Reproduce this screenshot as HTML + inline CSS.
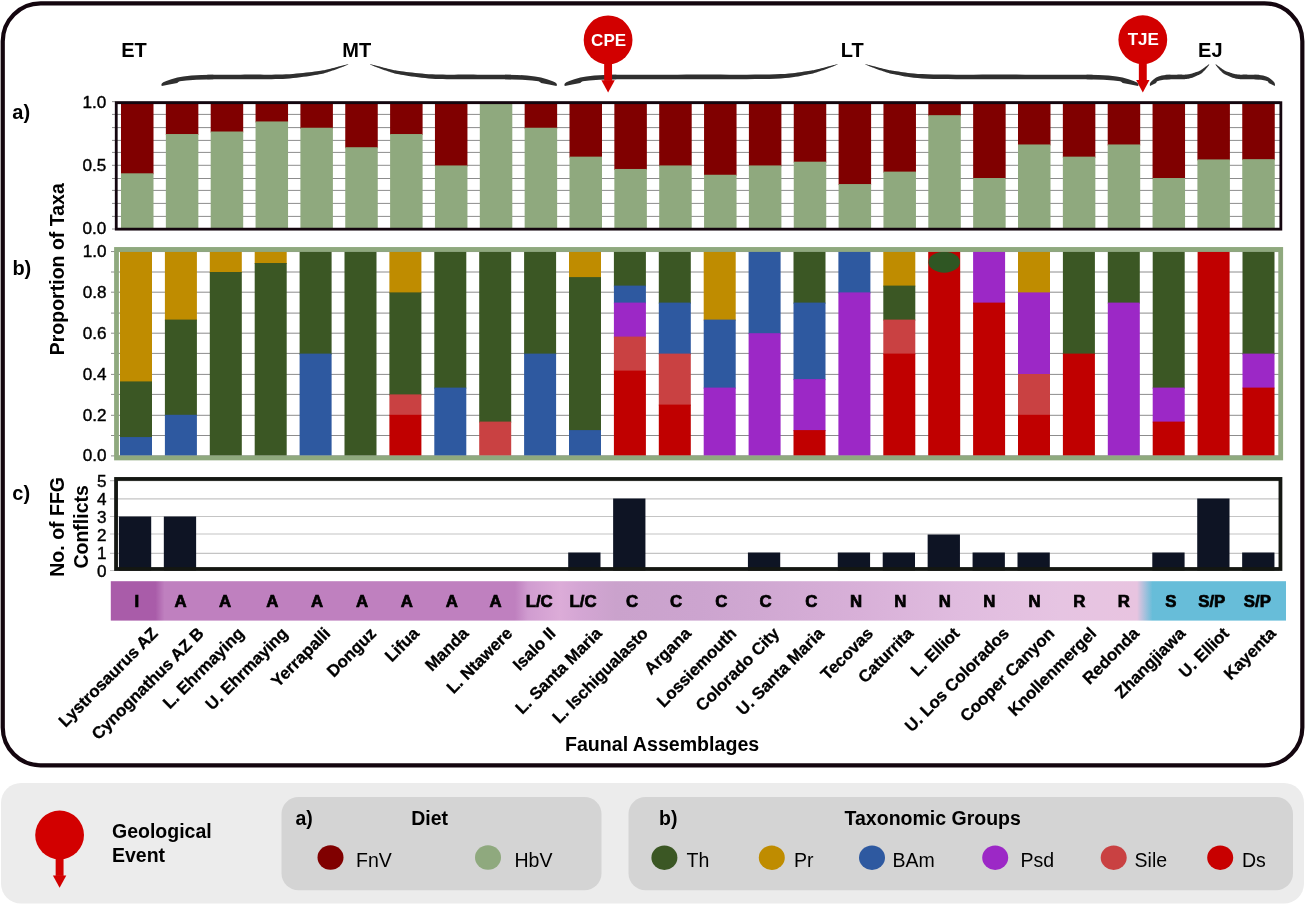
<!DOCTYPE html>
<html><head><meta charset="utf-8"><title>Faunal Assemblages</title>
<style>html,body{margin:0;padding:0;background:#fff;}body{width:1305px;height:904px;overflow:hidden;font-family:"Liberation Sans", sans-serif;}svg{display:block;will-change:transform;}</style>
</head><body>
<svg width="1305" height="904" viewBox="0 0 1305 904" font-family='"Liberation Sans", sans-serif'><rect x="2.75" y="3.3" width="1299.6" height="762" rx="37.9" ry="37.9" fill="#fff" stroke="#14060f" stroke-width="4.2"/>
<rect x="1" y="783" width="1303" height="120.5" rx="20" ry="20" fill="#ececec"/>
<line x1="112" y1="101.65" x2="1280" y2="101.65" stroke="#8c8c8c" stroke-width="1"/>
<line x1="112" y1="114.4" x2="1280" y2="114.4" stroke="#8c8c8c" stroke-width="1"/>
<line x1="112" y1="127.6" x2="1280" y2="127.6" stroke="#8c8c8c" stroke-width="1"/>
<line x1="112" y1="140.4" x2="1280" y2="140.4" stroke="#8c8c8c" stroke-width="1"/>
<line x1="112" y1="152.4" x2="1280" y2="152.4" stroke="#8c8c8c" stroke-width="1"/>
<line x1="112" y1="165.3" x2="1280" y2="165.3" stroke="#8c8c8c" stroke-width="1"/>
<line x1="112" y1="178.5" x2="1280" y2="178.5" stroke="#8c8c8c" stroke-width="1"/>
<line x1="112" y1="190.4" x2="1280" y2="190.4" stroke="#8c8c8c" stroke-width="1"/>
<line x1="112" y1="203.4" x2="1280" y2="203.4" stroke="#8c8c8c" stroke-width="1"/>
<line x1="112" y1="216.4" x2="1280" y2="216.4" stroke="#8c8c8c" stroke-width="1"/>
<line x1="112" y1="229" x2="1280" y2="229" stroke="#8c8c8c" stroke-width="1"/>
<rect x="121" y="102.6" width="32.5" height="71.71" fill="#800000"/>
<rect x="121" y="173.31" width="32.5" height="54.99" fill="#8fa97e"/>
<rect x="165.85" y="102.6" width="32.5" height="32.43" fill="#800000"/>
<rect x="165.85" y="134.03" width="32.5" height="94.28" fill="#8fa97e"/>
<rect x="210.7" y="102.6" width="32.5" height="29.91" fill="#800000"/>
<rect x="210.7" y="131.51" width="32.5" height="96.79" fill="#8fa97e"/>
<rect x="255.55" y="102.6" width="32.5" height="19.86" fill="#800000"/>
<rect x="255.55" y="121.45" width="32.5" height="106.85" fill="#8fa97e"/>
<rect x="300.4" y="102.6" width="32.5" height="26.14" fill="#800000"/>
<rect x="300.4" y="127.74" width="32.5" height="100.56" fill="#8fa97e"/>
<rect x="345.25" y="102.6" width="32.5" height="45.62" fill="#800000"/>
<rect x="345.25" y="147.22" width="32.5" height="81.08" fill="#8fa97e"/>
<rect x="390.1" y="102.6" width="32.5" height="32.43" fill="#800000"/>
<rect x="390.1" y="134.03" width="32.5" height="94.28" fill="#8fa97e"/>
<rect x="434.95" y="102.6" width="32.5" height="63.85" fill="#800000"/>
<rect x="434.95" y="165.45" width="32.5" height="62.85" fill="#8fa97e"/>
<rect x="479.8" y="102.6" width="32.5" height="125.7" fill="#8fa97e"/>
<rect x="524.65" y="102.6" width="32.5" height="26.14" fill="#800000"/>
<rect x="524.65" y="127.74" width="32.5" height="100.56" fill="#8fa97e"/>
<rect x="569.5" y="102.6" width="32.5" height="55.05" fill="#800000"/>
<rect x="569.5" y="156.65" width="32.5" height="71.65" fill="#8fa97e"/>
<rect x="614.35" y="102.6" width="32.5" height="67.37" fill="#800000"/>
<rect x="614.35" y="168.97" width="32.5" height="59.33" fill="#8fa97e"/>
<rect x="659.2" y="102.6" width="32.5" height="63.85" fill="#800000"/>
<rect x="659.2" y="165.45" width="32.5" height="62.85" fill="#8fa97e"/>
<rect x="704.05" y="102.6" width="32.5" height="73.15" fill="#800000"/>
<rect x="704.05" y="174.75" width="32.5" height="53.55" fill="#8fa97e"/>
<rect x="748.9" y="102.6" width="32.5" height="63.85" fill="#800000"/>
<rect x="748.9" y="165.45" width="32.5" height="62.85" fill="#8fa97e"/>
<rect x="793.75" y="102.6" width="32.5" height="60.08" fill="#800000"/>
<rect x="793.75" y="161.68" width="32.5" height="66.62" fill="#8fa97e"/>
<rect x="838.6" y="102.6" width="32.5" height="82.45" fill="#800000"/>
<rect x="838.6" y="184.05" width="32.5" height="44.25" fill="#8fa97e"/>
<rect x="883.45" y="102.6" width="32.5" height="70.01" fill="#800000"/>
<rect x="883.45" y="171.61" width="32.5" height="56.69" fill="#8fa97e"/>
<rect x="928.3" y="102.6" width="32.5" height="13.57" fill="#800000"/>
<rect x="928.3" y="115.17" width="32.5" height="113.13" fill="#8fa97e"/>
<rect x="973.15" y="102.6" width="32.5" height="76.42" fill="#800000"/>
<rect x="973.15" y="178.02" width="32.5" height="50.28" fill="#8fa97e"/>
<rect x="1018" y="102.6" width="32.5" height="42.86" fill="#800000"/>
<rect x="1018" y="144.46" width="32.5" height="83.84" fill="#8fa97e"/>
<rect x="1062.85" y="102.6" width="32.5" height="55.05" fill="#800000"/>
<rect x="1062.85" y="156.65" width="32.5" height="71.65" fill="#8fa97e"/>
<rect x="1107.7" y="102.6" width="32.5" height="42.86" fill="#800000"/>
<rect x="1107.7" y="144.46" width="32.5" height="83.84" fill="#8fa97e"/>
<rect x="1152.55" y="102.6" width="32.5" height="76.42" fill="#800000"/>
<rect x="1152.55" y="178.02" width="32.5" height="50.28" fill="#8fa97e"/>
<rect x="1197.4" y="102.6" width="32.5" height="57.82" fill="#800000"/>
<rect x="1197.4" y="159.42" width="32.5" height="68.88" fill="#8fa97e"/>
<rect x="1242.25" y="102.6" width="32.5" height="57.56" fill="#800000"/>
<rect x="1242.25" y="159.16" width="32.5" height="69.14" fill="#8fa97e"/>
<rect x="116.25" y="102.7" width="1164.6" height="126.45" fill="none" stroke="#14060f" stroke-width="2.8"/>
<text transform="translate(106.2 108.3) scale(1.07 1)" text-anchor="end" font-size="16" stroke="#000" stroke-width="0.4">1.0</text>
<text transform="translate(106.2 171.15) scale(1.07 1)" text-anchor="end" font-size="16" stroke="#000" stroke-width="0.4">0.5</text>
<text transform="translate(106.2 234) scale(1.07 1)" text-anchor="end" font-size="16" stroke="#000" stroke-width="0.4">0.0</text>
<line x1="111" y1="251.55" x2="1279" y2="251.55" stroke="#8c8c8c" stroke-width="1"/>
<line x1="111" y1="272" x2="1279" y2="272" stroke="#8c8c8c" stroke-width="1"/>
<line x1="111" y1="292.2" x2="1279" y2="292.2" stroke="#8c8c8c" stroke-width="1"/>
<line x1="111" y1="313.1" x2="1279" y2="313.1" stroke="#8c8c8c" stroke-width="1"/>
<line x1="111" y1="333.2" x2="1279" y2="333.2" stroke="#8c8c8c" stroke-width="1"/>
<line x1="111" y1="353.4" x2="1279" y2="353.4" stroke="#8c8c8c" stroke-width="1"/>
<line x1="111" y1="374.4" x2="1279" y2="374.4" stroke="#8c8c8c" stroke-width="1"/>
<line x1="111" y1="394.4" x2="1279" y2="394.4" stroke="#8c8c8c" stroke-width="1"/>
<line x1="111" y1="415.3" x2="1279" y2="415.3" stroke="#8c8c8c" stroke-width="1"/>
<line x1="111" y1="435.5" x2="1279" y2="435.5" stroke="#8c8c8c" stroke-width="1"/>
<line x1="111" y1="455.9" x2="1279" y2="455.9" stroke="#8c8c8c" stroke-width="1"/>
<rect x="120" y="251.6" width="32.0" height="130.82" fill="#bf8c00"/>
<rect x="120" y="381.42" width="32.0" height="56.64" fill="#3b5724"/>
<rect x="120" y="437.05" width="32.0" height="18.55" fill="#2e59a0"/>
<rect x="164.9" y="251.6" width="32.0" height="68.99" fill="#bf8c00"/>
<rect x="164.9" y="319.59" width="32.0" height="96.21" fill="#3b5724"/>
<rect x="164.9" y="414.8" width="32.0" height="40.8" fill="#2e59a0"/>
<rect x="209.8" y="251.6" width="32.0" height="21.4" fill="#bf8c00"/>
<rect x="209.8" y="272" width="32.0" height="183.6" fill="#3b5724"/>
<rect x="254.7" y="251.6" width="32.0" height="12.42" fill="#bf8c00"/>
<rect x="254.7" y="263.02" width="32.0" height="192.58" fill="#3b5724"/>
<rect x="299.6" y="251.6" width="32.0" height="103" fill="#3b5724"/>
<rect x="299.6" y="353.6" width="32.0" height="102" fill="#2e59a0"/>
<rect x="344.5" y="251.6" width="32.0" height="204" fill="#3b5724"/>
<rect x="389.4" y="251.6" width="32.0" height="41.8" fill="#bf8c00"/>
<rect x="389.4" y="292.4" width="32.0" height="103" fill="#3b5724"/>
<rect x="389.4" y="394.4" width="32.0" height="21.4" fill="#c94142"/>
<rect x="389.4" y="414.8" width="32.0" height="40.8" fill="#c00000"/>
<rect x="434.3" y="251.6" width="32.0" height="137" fill="#3b5724"/>
<rect x="434.3" y="387.6" width="32.0" height="68" fill="#2e59a0"/>
<rect x="479.2" y="251.6" width="32.0" height="171" fill="#3b5724"/>
<rect x="479.2" y="421.6" width="32.0" height="34" fill="#c94142"/>
<rect x="524.1" y="251.6" width="32.0" height="103" fill="#3b5724"/>
<rect x="524.1" y="353.6" width="32.0" height="102" fill="#2e59a0"/>
<rect x="569" y="251.6" width="32.0" height="26.5" fill="#bf8c00"/>
<rect x="569" y="277.1" width="32.0" height="154" fill="#3b5724"/>
<rect x="569" y="430.1" width="32.0" height="25.5" fill="#2e59a0"/>
<rect x="613.9" y="251.6" width="32.0" height="35" fill="#3b5724"/>
<rect x="613.9" y="285.6" width="32.0" height="18" fill="#2e59a0"/>
<rect x="613.9" y="302.6" width="32.0" height="35" fill="#9c28c6"/>
<rect x="613.9" y="336.6" width="32.0" height="35" fill="#c94142"/>
<rect x="613.9" y="370.6" width="32.0" height="85" fill="#c00000"/>
<rect x="658.8" y="251.6" width="32.0" height="52" fill="#3b5724"/>
<rect x="658.8" y="302.6" width="32.0" height="52" fill="#2e59a0"/>
<rect x="658.8" y="353.6" width="32.0" height="52" fill="#c94142"/>
<rect x="658.8" y="404.6" width="32.0" height="51" fill="#c00000"/>
<rect x="703.7" y="251.6" width="32.0" height="69" fill="#bf8c00"/>
<rect x="703.7" y="319.6" width="32.0" height="69" fill="#2e59a0"/>
<rect x="703.7" y="387.6" width="32.0" height="68" fill="#9c28c6"/>
<rect x="748.6" y="251.6" width="32.0" height="82.6" fill="#2e59a0"/>
<rect x="748.6" y="333.2" width="32.0" height="122.4" fill="#9c28c6"/>
<rect x="793.5" y="251.6" width="32.0" height="52" fill="#3b5724"/>
<rect x="793.5" y="302.6" width="32.0" height="77.5" fill="#2e59a0"/>
<rect x="793.5" y="379.1" width="32.0" height="52" fill="#9c28c6"/>
<rect x="793.5" y="430.1" width="32.0" height="25.5" fill="#c00000"/>
<rect x="838.4" y="251.6" width="32.0" height="41.8" fill="#2e59a0"/>
<rect x="838.4" y="292.4" width="32.0" height="163.2" fill="#9c28c6"/>
<rect x="883.3" y="251.6" width="32.0" height="35" fill="#bf8c00"/>
<rect x="883.3" y="285.6" width="32.0" height="35" fill="#3b5724"/>
<rect x="883.3" y="319.6" width="32.0" height="35" fill="#c94142"/>
<rect x="883.3" y="353.6" width="32.0" height="102" fill="#c00000"/>
<rect x="928.2" y="251.6" width="32.0" height="204" fill="#c00000"/>
<rect x="973.1" y="251.6" width="32.0" height="52" fill="#9c28c6"/>
<rect x="973.1" y="302.6" width="32.0" height="153" fill="#c00000"/>
<rect x="1018" y="251.6" width="32.0" height="41.8" fill="#bf8c00"/>
<rect x="1018" y="292.4" width="32.0" height="82.6" fill="#9c28c6"/>
<rect x="1018" y="374" width="32.0" height="41.8" fill="#c94142"/>
<rect x="1018" y="414.8" width="32.0" height="40.8" fill="#c00000"/>
<rect x="1062.9" y="251.6" width="32.0" height="103" fill="#3b5724"/>
<rect x="1062.9" y="353.6" width="32.0" height="102" fill="#c00000"/>
<rect x="1107.8" y="251.6" width="32.0" height="52" fill="#3b5724"/>
<rect x="1107.8" y="302.6" width="32.0" height="153" fill="#9c28c6"/>
<rect x="1152.7" y="251.6" width="32.0" height="137" fill="#3b5724"/>
<rect x="1152.7" y="387.6" width="32.0" height="35" fill="#9c28c6"/>
<rect x="1152.7" y="421.6" width="32.0" height="34" fill="#c00000"/>
<rect x="1197.6" y="251.6" width="32.0" height="204" fill="#c00000"/>
<rect x="1242.5" y="251.6" width="32.0" height="103" fill="#3b5724"/>
<rect x="1242.5" y="353.6" width="32.0" height="35" fill="#9c28c6"/>
<rect x="1242.5" y="387.6" width="32.0" height="68" fill="#c00000"/>
<ellipse cx="944.2" cy="262.2" rx="15.8" ry="10.5" fill="#2f5623"/>
<rect x="116.5" y="249.45" width="1164.2" height="208.5" fill="none" stroke="#8fa97e" stroke-width="4.8"/>
<text transform="translate(106.6 461.3) scale(1.07 1)" text-anchor="end" font-size="16" stroke="#000" stroke-width="0.4">0.0</text>
<text transform="translate(106.6 420.5) scale(1.07 1)" text-anchor="end" font-size="16" stroke="#000" stroke-width="0.4">0.2</text>
<text transform="translate(106.6 379.7) scale(1.07 1)" text-anchor="end" font-size="16" stroke="#000" stroke-width="0.4">0.4</text>
<text transform="translate(106.6 338.9) scale(1.07 1)" text-anchor="end" font-size="16" stroke="#000" stroke-width="0.4">0.6</text>
<text transform="translate(106.6 298.1) scale(1.07 1)" text-anchor="end" font-size="16" stroke="#000" stroke-width="0.4">0.8</text>
<text transform="translate(106.6 257.3) scale(1.07 1)" text-anchor="end" font-size="16" stroke="#000" stroke-width="0.4">1.0</text>
<line x1="110" y1="570.5" x2="1279" y2="570.5" stroke="#c4c4c4" stroke-width="1.2"/>
<line x1="110" y1="553.3" x2="1279" y2="553.3" stroke="#c4c4c4" stroke-width="1.2"/>
<line x1="110" y1="534" x2="1279" y2="534" stroke="#c4c4c4" stroke-width="1.2"/>
<line x1="110" y1="516.5" x2="1279" y2="516.5" stroke="#c4c4c4" stroke-width="1.2"/>
<line x1="110" y1="498.8" x2="1279" y2="498.8" stroke="#c4c4c4" stroke-width="1.2"/>
<line x1="110" y1="480.6" x2="1279" y2="480.6" stroke="#c4c4c4" stroke-width="1.2"/>
<rect x="118.9" y="516.5" width="32.3" height="54" fill="#0e1424"/>
<rect x="163.83" y="516.5" width="32.3" height="54" fill="#0e1424"/>
<rect x="568.2" y="552.5" width="32.3" height="18" fill="#0e1424"/>
<rect x="613.13" y="498.5" width="32.3" height="72" fill="#0e1424"/>
<rect x="747.92" y="552.5" width="32.3" height="18" fill="#0e1424"/>
<rect x="837.78" y="552.5" width="32.3" height="18" fill="#0e1424"/>
<rect x="882.71" y="552.5" width="32.3" height="18" fill="#0e1424"/>
<rect x="927.64" y="534.5" width="32.3" height="36" fill="#0e1424"/>
<rect x="972.57" y="552.5" width="32.3" height="18" fill="#0e1424"/>
<rect x="1017.5" y="552.5" width="32.3" height="18" fill="#0e1424"/>
<rect x="1152.29" y="552.5" width="32.3" height="18" fill="#0e1424"/>
<rect x="1197.22" y="498.5" width="32.3" height="72" fill="#0e1424"/>
<rect x="1242.15" y="552.5" width="32.3" height="18" fill="#0e1424"/>
<rect x="116.05" y="478.95" width="1164.4" height="90.05" fill="none" stroke="#141712" stroke-width="3.8"/>
<text transform="translate(106.5 576.5) scale(1.07 1)" text-anchor="end" font-size="16" stroke="#000" stroke-width="0.4">0</text>
<text transform="translate(106.5 558.5) scale(1.07 1)" text-anchor="end" font-size="16" stroke="#000" stroke-width="0.4">1</text>
<text transform="translate(106.5 540.5) scale(1.07 1)" text-anchor="end" font-size="16" stroke="#000" stroke-width="0.4">2</text>
<text transform="translate(106.5 522.5) scale(1.07 1)" text-anchor="end" font-size="16" stroke="#000" stroke-width="0.4">3</text>
<text transform="translate(106.5 504.5) scale(1.07 1)" text-anchor="end" font-size="16" stroke="#000" stroke-width="0.4">4</text>
<text transform="translate(106.5 486.5) scale(1.07 1)" text-anchor="end" font-size="16" stroke="#000" stroke-width="0.4">5</text>
<defs><linearGradient id="sg" x1="0" y1="0" x2="1" y2="0"><stop offset="0.0000" stop-color="#a95ca9"/><stop offset="0.0380" stop-color="#a95ca9"/><stop offset="0.0457" stop-color="#bf80bf"/><stop offset="0.3439" stop-color="#bf80bf"/><stop offset="0.3550" stop-color="#d09cd0"/><stop offset="0.3822" stop-color="#dcacd8"/><stop offset="0.3993" stop-color="#d4a6d4"/><stop offset="0.4299" stop-color="#caa2cc"/><stop offset="0.5014" stop-color="#cca4cf"/><stop offset="0.5524" stop-color="#d0a8d2"/><stop offset="0.6375" stop-color="#d8b0d8"/><stop offset="0.7226" stop-color="#e0bcdf"/><stop offset="0.8077" stop-color="#e6c4e2"/><stop offset="0.8732" stop-color="#e8c4e0"/><stop offset="0.8864" stop-color="#67bdd9"/><stop offset="1.0000" stop-color="#67bdd9"/></linearGradient></defs>
<rect x="110.8" y="581.2" width="1175.2" height="39.4" fill="url(#sg)"/>
<text x="136.8" y="606.8" text-anchor="middle" font-size="16.8" font-weight="bold" stroke="#000" stroke-width="0.7">I</text>
<text x="180.5" y="606.8" text-anchor="middle" font-size="16.8" font-weight="bold" stroke="#000" stroke-width="0.7">A</text>
<text x="225.1" y="606.8" text-anchor="middle" font-size="16.8" font-weight="bold" stroke="#000" stroke-width="0.7">A</text>
<text x="272.4" y="606.8" text-anchor="middle" font-size="16.8" font-weight="bold" stroke="#000" stroke-width="0.7">A</text>
<text x="317" y="606.8" text-anchor="middle" font-size="16.8" font-weight="bold" stroke="#000" stroke-width="0.7">A</text>
<text x="362" y="606.8" text-anchor="middle" font-size="16.8" font-weight="bold" stroke="#000" stroke-width="0.7">A</text>
<text x="406.7" y="606.8" text-anchor="middle" font-size="16.8" font-weight="bold" stroke="#000" stroke-width="0.7">A</text>
<text x="451.7" y="606.8" text-anchor="middle" font-size="16.8" font-weight="bold" stroke="#000" stroke-width="0.7">A</text>
<text x="495.6" y="606.8" text-anchor="middle" font-size="16.8" font-weight="bold" stroke="#000" stroke-width="0.7">A</text>
<text x="539.2" y="606.8" text-anchor="middle" font-size="16.8" font-weight="bold" stroke="#000" stroke-width="0.7">L/C</text>
<text x="583.1" y="606.8" text-anchor="middle" font-size="16.8" font-weight="bold" stroke="#000" stroke-width="0.7">L/C</text>
<text x="632" y="606.8" text-anchor="middle" font-size="16.8" font-weight="bold" stroke="#000" stroke-width="0.7">C</text>
<text x="676.1" y="606.8" text-anchor="middle" font-size="16.8" font-weight="bold" stroke="#000" stroke-width="0.7">C</text>
<text x="721.3" y="606.8" text-anchor="middle" font-size="16.8" font-weight="bold" stroke="#000" stroke-width="0.7">C</text>
<text x="765.6" y="606.8" text-anchor="middle" font-size="16.8" font-weight="bold" stroke="#000" stroke-width="0.7">C</text>
<text x="811.3" y="606.8" text-anchor="middle" font-size="16.8" font-weight="bold" stroke="#000" stroke-width="0.7">C</text>
<text x="856" y="606.8" text-anchor="middle" font-size="16.8" font-weight="bold" stroke="#000" stroke-width="0.7">N</text>
<text x="900.4" y="606.8" text-anchor="middle" font-size="16.8" font-weight="bold" stroke="#000" stroke-width="0.7">N</text>
<text x="944.8" y="606.8" text-anchor="middle" font-size="16.8" font-weight="bold" stroke="#000" stroke-width="0.7">N</text>
<text x="989.2" y="606.8" text-anchor="middle" font-size="16.8" font-weight="bold" stroke="#000" stroke-width="0.7">N</text>
<text x="1034.5" y="606.8" text-anchor="middle" font-size="16.8" font-weight="bold" stroke="#000" stroke-width="0.7">N</text>
<text x="1079.4" y="606.8" text-anchor="middle" font-size="16.8" font-weight="bold" stroke="#000" stroke-width="0.7">R</text>
<text x="1123.8" y="606.8" text-anchor="middle" font-size="16.8" font-weight="bold" stroke="#000" stroke-width="0.7">R</text>
<text x="1170.8" y="606.8" text-anchor="middle" font-size="16.8" font-weight="bold" stroke="#000" stroke-width="0.7">S</text>
<text x="1211.8" y="606.8" text-anchor="middle" font-size="16.8" font-weight="bold" stroke="#000" stroke-width="0.7">S/P</text>
<text x="1257.4" y="606.8" text-anchor="middle" font-size="16.8" font-weight="bold" stroke="#000" stroke-width="0.7">S/P</text>
<text x="158.8" y="634.5" text-anchor="end" font-size="16.8" font-weight="bold" stroke="#000" stroke-width="0.3" transform="rotate(-45 158.8 634.5)">Lystrosaurus AZ</text>
<text x="204.8" y="634.5" text-anchor="end" font-size="16.8" font-weight="bold" stroke="#000" stroke-width="0.3" transform="rotate(-45 204.8 634.5)">Cynognathus AZ B</text>
<text x="244.9" y="634.5" text-anchor="end" font-size="16.8" font-weight="bold" stroke="#000" stroke-width="0.3" transform="rotate(-45 244.9 634.5)">L. Ehrmaying</text>
<text x="288.8" y="634.5" text-anchor="end" font-size="16.8" font-weight="bold" stroke="#000" stroke-width="0.3" transform="rotate(-45 288.8 634.5)">U. Ehrmaying</text>
<text x="331.4" y="634.5" text-anchor="end" font-size="16.8" font-weight="bold" stroke="#000" stroke-width="0.3" transform="rotate(-45 331.4 634.5)">Yerrapalli</text>
<text x="377.3" y="634.5" text-anchor="end" font-size="16.8" font-weight="bold" stroke="#000" stroke-width="0.3" transform="rotate(-45 377.3 634.5)">Donguz</text>
<text x="420.2" y="634.5" text-anchor="end" font-size="16.8" font-weight="bold" stroke="#000" stroke-width="0.3" transform="rotate(-45 420.2 634.5)">Lifua</text>
<text x="469.5" y="634.5" text-anchor="end" font-size="16.8" font-weight="bold" stroke="#000" stroke-width="0.3" transform="rotate(-45 469.5 634.5)">Manda</text>
<text x="513.4" y="634.5" text-anchor="end" font-size="16.8" font-weight="bold" stroke="#000" stroke-width="0.3" transform="rotate(-45 513.4 634.5)">L. Ntawere</text>
<text x="556.6" y="634.5" text-anchor="end" font-size="16.8" font-weight="bold" stroke="#000" stroke-width="0.3" transform="rotate(-45 556.6 634.5)">Isalo II</text>
<text x="602.8" y="634.5" text-anchor="end" font-size="16.8" font-weight="bold" stroke="#000" stroke-width="0.3" transform="rotate(-45 602.8 634.5)">L. Santa Maria</text>
<text x="648.9" y="634.5" text-anchor="end" font-size="16.8" font-weight="bold" stroke="#000" stroke-width="0.3" transform="rotate(-45 648.9 634.5)">L. Ischigualasto</text>
<text x="692" y="634.5" text-anchor="end" font-size="16.8" font-weight="bold" stroke="#000" stroke-width="0.3" transform="rotate(-45 692 634.5)">Argana</text>
<text x="737.5" y="634.5" text-anchor="end" font-size="16.8" font-weight="bold" stroke="#000" stroke-width="0.3" transform="rotate(-45 737.5 634.5)">Lossiemouth</text>
<text x="780.4" y="634.5" text-anchor="end" font-size="16.8" font-weight="bold" stroke="#000" stroke-width="0.3" transform="rotate(-45 780.4 634.5)">Colorado City</text>
<text x="825.1" y="634.5" text-anchor="end" font-size="16.8" font-weight="bold" stroke="#000" stroke-width="0.3" transform="rotate(-45 825.1 634.5)">U. Santa Maria</text>
<text x="874.2" y="634.5" text-anchor="end" font-size="16.8" font-weight="bold" stroke="#000" stroke-width="0.3" transform="rotate(-45 874.2 634.5)">Tecovas</text>
<text x="914.4" y="634.5" text-anchor="end" font-size="16.8" font-weight="bold" stroke="#000" stroke-width="0.3" transform="rotate(-45 914.4 634.5)">Caturrita</text>
<text x="960.4" y="634.5" text-anchor="end" font-size="16.8" font-weight="bold" stroke="#000" stroke-width="0.3" transform="rotate(-45 960.4 634.5)">L. Elliot</text>
<text x="1010.1" y="634.5" text-anchor="end" font-size="16.8" font-weight="bold" stroke="#000" stroke-width="0.3" transform="rotate(-45 1010.1 634.5)">U. Los Colorados</text>
<text x="1055.4" y="634.5" text-anchor="end" font-size="16.8" font-weight="bold" stroke="#000" stroke-width="0.3" transform="rotate(-45 1055.4 634.5)">Cooper Canyon</text>
<text x="1097.3" y="634.5" text-anchor="end" font-size="16.8" font-weight="bold" stroke="#000" stroke-width="0.3" transform="rotate(-45 1097.3 634.5)">Knollenmergel</text>
<text x="1140.2" y="634.5" text-anchor="end" font-size="16.8" font-weight="bold" stroke="#000" stroke-width="0.3" transform="rotate(-45 1140.2 634.5)">Redonda</text>
<text x="1186.3" y="634.5" text-anchor="end" font-size="16.8" font-weight="bold" stroke="#000" stroke-width="0.3" transform="rotate(-45 1186.3 634.5)">Zhangjiawa</text>
<text x="1230" y="634.5" text-anchor="end" font-size="16.8" font-weight="bold" stroke="#000" stroke-width="0.3" transform="rotate(-45 1230 634.5)">U. Elliot</text>
<text x="1276.8" y="634.5" text-anchor="end" font-size="16.8" font-weight="bold" stroke="#000" stroke-width="0.3" transform="rotate(-45 1276.8 634.5)">Kayenta</text>
<text x="662.1" y="750.6" text-anchor="middle" font-size="19.6" font-weight="bold">Faunal Assemblages</text>
<text x="0" y="0" text-anchor="middle" font-size="21" font-weight="bold" transform="translate(64 269.25) rotate(-90) scale(0.93 1)">Proportion of Taxa</text>
<text x="0" y="0" text-anchor="middle" font-size="21" font-weight="bold" transform="translate(64.2 526.85) rotate(-90) scale(0.93 1)">No. of FFG</text>
<text x="0" y="0" text-anchor="middle" font-size="21" font-weight="bold" transform="translate(88 526.85) rotate(-90) scale(0.93 1)">Conflicts</text>
<text x="12.3" y="119.3" font-size="20" font-weight="bold">a)</text>
<text x="12.4" y="274.6" font-size="20" font-weight="bold">b)</text>
<text x="12.3" y="500" font-size="20" font-weight="bold">c)</text>
<text x="134" y="56.8" text-anchor="middle" font-size="20" font-weight="bold">ET</text>
<text x="356.7" y="56.8" text-anchor="middle" font-size="20" font-weight="bold">MT</text>
<text x="852.3" y="56.8" text-anchor="middle" font-size="20" font-weight="bold">LT</text>
<text x="1210.3" y="56.8" text-anchor="middle" font-size="20" font-weight="bold">EJ</text>
<path d="M207.30,79.30 L211.30,79.30 L213.53,79.30 L216.39,79.29 L219.78,79.29 L223.58,79.29 L227.68,79.28 L231.96,79.27 L236.33,79.26 L240.65,79.25 L244.83,79.23 L248.74,79.20 L252.50,79.18 L256.31,79.18 L260.15,79.19 L264.00,79.19 L267.84,79.19 L271.66,79.16 L275.43,79.11 L279.13,79.02 L282.76,78.88 L286.27,78.68 L289.75,78.42 L293.25,78.09 L296.72,77.71 L300.13,77.29 L303.45,76.85 L306.64,76.39 L309.67,75.93 L312.49,75.48 L315.08,75.06 L317.40,74.68 L319.41,74.33 L321.11,74.00 L322.55,73.69 L323.79,73.38 L324.89,73.08 L325.88,72.78 L326.81,72.47 L327.76,72.15 L328.76,71.81 L329.89,71.45 L331.15,71.05 L332.46,70.62 L333.79,70.16 L335.12,69.69 L336.44,69.22 L337.72,68.74 L338.95,68.28 L340.12,67.84 L341.19,67.44 L342.16,67.07 L343.05,66.72 L343.87,66.39 L344.63,66.08 L345.33,65.78 L345.96,65.50 L346.53,65.25 L347.04,65.01 L347.49,64.81 L347.88,64.63 L348.22,64.49 L348.08,64.11 L347.73,64.20 L347.32,64.31 L346.84,64.43 L346.30,64.57 L345.69,64.72 L345.02,64.89 L344.29,65.08 L343.50,65.28 L342.65,65.50 L341.74,65.73 L340.73,65.99 L339.62,66.29 L338.42,66.61 L337.15,66.95 L335.84,67.30 L334.49,67.65 L333.14,68.00 L331.80,68.33 L330.48,68.65 L329.21,68.95 L328.03,69.22 L326.98,69.48 L326.02,69.72 L325.09,69.94 L324.14,70.16 L323.10,70.37 L321.92,70.59 L320.53,70.82 L318.88,71.06 L316.90,71.32 L314.58,71.61 L311.99,71.92 L309.17,72.26 L306.15,72.61 L302.98,72.95 L299.68,73.29 L296.30,73.60 L292.87,73.89 L289.43,74.13 L286.03,74.32 L282.58,74.46 L279.02,74.55 L275.36,74.61 L271.63,74.63 L267.84,74.64 L264.01,74.63 L260.16,74.61 L256.32,74.60 L252.49,74.59 L248.71,74.60 L244.80,74.62 L240.63,74.63 L236.31,74.65 L231.95,74.66 L227.67,74.67 L223.57,74.68 L219.77,74.68 L216.39,74.69 L213.52,74.69 L211.30,74.70 L207.30,74.70Z" fill="#2f2f2f"/><path d="M161.30,85.00 L161.80,83.60 L163.30,82.30 L166.30,80.90 L171.30,79.20 L177.30,77.60 L183.30,76.40 L191.30,75.40 L201.30,74.90 L213.30,74.70 L213.30,79.30 L206.30,79.40 L196.30,79.80 L186.30,80.50 L179.80,81.30 L178.30,82.10 L177.30,83.10 L169.30,84.60 L161.90,85.90Z" fill="#2f2f2f"/><path d="M511.00,79.30 L507.00,79.30 L504.77,79.30 L501.91,79.29 L498.52,79.29 L494.72,79.29 L490.62,79.28 L486.34,79.27 L481.97,79.26 L477.65,79.25 L473.47,79.23 L469.56,79.20 L465.80,79.18 L461.99,79.18 L458.15,79.19 L454.30,79.19 L450.46,79.19 L446.64,79.16 L442.87,79.11 L439.17,79.02 L435.54,78.88 L432.03,78.68 L428.55,78.42 L425.05,78.09 L421.58,77.71 L418.17,77.29 L414.85,76.85 L411.66,76.39 L408.63,75.93 L405.81,75.48 L403.22,75.06 L400.90,74.68 L398.89,74.33 L397.19,74.00 L395.75,73.69 L394.51,73.38 L393.41,73.08 L392.42,72.78 L391.49,72.47 L390.54,72.15 L389.54,71.81 L388.41,71.45 L387.15,71.05 L385.84,70.62 L384.51,70.16 L383.18,69.69 L381.86,69.22 L380.58,68.74 L379.35,68.28 L378.18,67.84 L377.11,67.44 L376.14,67.07 L375.25,66.72 L374.43,66.39 L373.67,66.08 L372.97,65.78 L372.34,65.50 L371.77,65.25 L371.26,65.01 L370.81,64.81 L370.42,64.63 L370.08,64.49 L370.22,64.11 L370.57,64.20 L370.98,64.31 L371.46,64.43 L372.00,64.57 L372.61,64.72 L373.28,64.89 L374.01,65.08 L374.80,65.28 L375.65,65.50 L376.56,65.73 L377.57,65.99 L378.68,66.29 L379.88,66.61 L381.15,66.95 L382.46,67.30 L383.81,67.65 L385.16,68.00 L386.50,68.33 L387.82,68.65 L389.09,68.95 L390.27,69.22 L391.32,69.48 L392.28,69.72 L393.21,69.94 L394.16,70.16 L395.20,70.37 L396.38,70.59 L397.77,70.82 L399.42,71.06 L401.40,71.32 L403.72,71.61 L406.31,71.92 L409.13,72.26 L412.15,72.61 L415.32,72.95 L418.62,73.29 L422.00,73.60 L425.43,73.89 L428.87,74.13 L432.27,74.32 L435.72,74.46 L439.28,74.55 L442.94,74.61 L446.67,74.63 L450.46,74.64 L454.29,74.63 L458.14,74.61 L461.98,74.60 L465.81,74.59 L469.59,74.60 L473.50,74.62 L477.67,74.63 L481.99,74.65 L486.35,74.66 L490.63,74.67 L494.73,74.68 L498.53,74.68 L501.91,74.69 L504.78,74.69 L507.00,74.70 L511.00,74.70Z" fill="#2f2f2f"/><path d="M557.00,85.00 L556.50,83.60 L555.00,82.30 L552.00,80.90 L547.00,79.20 L541.00,77.60 L535.00,76.40 L527.00,75.40 L517.00,74.90 L505.00,74.70 L505.00,79.30 L512.00,79.40 L522.00,79.80 L532.00,80.50 L538.50,81.30 L540.00,82.10 L541.00,83.10 L549.00,84.60 L556.40,85.90Z" fill="#2f2f2f"/>
<path d="M610.30,79.30 L614.30,79.30 L619.10,79.30 L625.26,79.29 L632.55,79.29 L640.73,79.29 L649.55,79.28 L658.78,79.27 L668.17,79.26 L677.47,79.25 L686.46,79.23 L694.88,79.20 L703.16,79.18 L711.78,79.18 L720.61,79.19 L729.48,79.19 L738.26,79.19 L746.80,79.16 L754.94,79.11 L762.54,79.02 L769.45,78.88 L775.53,78.68 L780.76,78.42 L785.28,78.09 L789.18,77.71 L792.55,77.29 L795.49,76.84 L798.08,76.38 L800.40,75.92 L802.55,75.47 L804.61,75.06 L806.71,74.68 L808.71,74.33 L810.41,74.00 L811.85,73.69 L813.09,73.38 L814.19,73.08 L815.18,72.78 L816.11,72.47 L817.06,72.15 L818.06,71.81 L819.19,71.45 L820.45,71.05 L821.76,70.62 L823.09,70.16 L824.42,69.69 L825.74,69.22 L827.02,68.74 L828.25,68.28 L829.42,67.84 L830.49,67.44 L831.46,67.07 L832.35,66.72 L833.17,66.39 L833.93,66.08 L834.63,65.78 L835.26,65.50 L835.83,65.25 L836.34,65.01 L836.79,64.81 L837.18,64.63 L837.52,64.49 L837.38,64.11 L837.03,64.20 L836.62,64.31 L836.14,64.43 L835.60,64.57 L834.99,64.72 L834.32,64.89 L833.59,65.08 L832.80,65.28 L831.95,65.50 L831.04,65.73 L830.03,65.99 L828.92,66.29 L827.72,66.61 L826.45,66.95 L825.14,67.30 L823.79,67.65 L822.44,68.00 L821.10,68.33 L819.78,68.65 L818.51,68.95 L817.33,69.22 L816.28,69.48 L815.32,69.72 L814.39,69.94 L813.44,70.16 L812.40,70.37 L811.22,70.59 L809.83,70.82 L808.18,71.06 L806.19,71.32 L804.04,71.61 L801.92,71.94 L799.75,72.27 L797.46,72.62 L794.93,72.96 L792.07,73.29 L788.78,73.60 L784.96,73.88 L780.53,74.12 L775.37,74.32 L769.35,74.46 L762.48,74.55 L754.90,74.61 L746.78,74.63 L738.26,74.64 L729.49,74.63 L720.61,74.61 L711.78,74.60 L703.15,74.59 L694.87,74.60 L686.45,74.62 L677.47,74.63 L668.16,74.65 L658.77,74.66 L649.55,74.67 L640.73,74.68 L632.55,74.68 L625.26,74.69 L619.09,74.69 L614.30,74.70 L610.30,74.70Z" fill="#2f2f2f"/><path d="M564.30,85.00 L564.80,83.60 L566.30,82.30 L569.30,80.90 L574.30,79.20 L580.30,77.60 L586.30,76.40 L594.30,75.40 L604.30,74.90 L616.30,74.70 L616.30,79.30 L609.30,79.40 L599.30,79.80 L589.30,80.50 L582.80,81.30 L581.30,82.10 L580.30,83.10 L572.30,84.60 L564.90,85.90Z" fill="#2f2f2f"/><path d="M1092.60,79.30 L1088.60,79.30 L1083.80,79.30 L1077.64,79.29 L1070.35,79.29 L1062.17,79.29 L1053.35,79.28 L1044.12,79.27 L1034.73,79.26 L1025.43,79.25 L1016.44,79.23 L1008.02,79.20 L999.74,79.18 L991.12,79.18 L982.29,79.19 L973.42,79.19 L964.64,79.19 L956.10,79.16 L947.96,79.11 L940.36,79.02 L933.45,78.88 L927.37,78.68 L922.14,78.42 L917.62,78.09 L913.72,77.71 L910.35,77.29 L907.41,76.84 L904.82,76.38 L902.50,75.92 L900.35,75.47 L898.29,75.06 L896.19,74.68 L894.19,74.33 L892.49,74.00 L891.05,73.69 L889.81,73.38 L888.71,73.08 L887.72,72.78 L886.79,72.47 L885.84,72.15 L884.84,71.81 L883.71,71.45 L882.45,71.05 L881.14,70.62 L879.81,70.16 L878.48,69.69 L877.16,69.22 L875.88,68.74 L874.65,68.28 L873.48,67.84 L872.41,67.44 L871.44,67.07 L870.55,66.72 L869.73,66.39 L868.97,66.08 L868.27,65.78 L867.64,65.50 L867.07,65.25 L866.56,65.01 L866.11,64.81 L865.72,64.63 L865.38,64.49 L865.52,64.11 L865.87,64.20 L866.28,64.31 L866.76,64.43 L867.30,64.57 L867.91,64.72 L868.58,64.89 L869.31,65.08 L870.10,65.28 L870.95,65.50 L871.86,65.73 L872.87,65.99 L873.98,66.29 L875.18,66.61 L876.45,66.95 L877.76,67.30 L879.11,67.65 L880.46,68.00 L881.80,68.33 L883.12,68.65 L884.39,68.95 L885.57,69.22 L886.62,69.48 L887.58,69.72 L888.51,69.94 L889.46,70.16 L890.50,70.37 L891.68,70.59 L893.07,70.82 L894.72,71.06 L896.71,71.32 L898.86,71.61 L900.98,71.94 L903.15,72.27 L905.44,72.62 L907.97,72.96 L910.83,73.29 L914.12,73.60 L917.94,73.88 L922.37,74.12 L927.53,74.32 L933.55,74.46 L940.42,74.55 L948.00,74.61 L956.12,74.63 L964.64,74.64 L973.41,74.63 L982.29,74.61 L991.12,74.60 L999.75,74.59 L1008.03,74.60 L1016.45,74.62 L1025.43,74.63 L1034.74,74.65 L1044.13,74.66 L1053.35,74.67 L1062.17,74.68 L1070.35,74.68 L1077.64,74.69 L1083.81,74.69 L1088.60,74.70 L1092.60,74.70Z" fill="#2f2f2f"/><path d="M1138.60,85.00 L1138.10,83.60 L1136.60,82.30 L1133.60,80.90 L1128.60,79.20 L1122.60,77.60 L1116.60,76.40 L1108.60,75.40 L1098.60,74.90 L1086.60,74.70 L1086.60,79.30 L1093.60,79.40 L1103.60,79.80 L1113.60,80.50 L1120.10,81.30 L1121.60,82.10 L1122.60,83.10 L1130.60,84.60 L1138.00,85.90Z" fill="#2f2f2f"/>
<path d="M1165.60,79.30 L1169.62,79.30 L1170.18,79.30 L1170.89,79.29 L1171.74,79.29 L1172.70,79.29 L1173.73,79.28 L1174.81,79.27 L1175.91,79.26 L1177.01,79.25 L1178.07,79.23 L1179.05,79.20 L1179.95,79.18 L1180.85,79.18 L1181.77,79.19 L1182.70,79.19 L1183.66,79.19 L1184.64,79.16 L1185.65,79.10 L1186.69,79.01 L1187.75,78.86 L1188.83,78.64 L1189.94,78.36 L1191.09,78.02 L1192.26,77.63 L1193.43,77.20 L1194.59,76.75 L1195.71,76.29 L1196.78,75.82 L1197.78,75.37 L1198.68,74.95 L1199.49,74.56 L1200.19,74.19 L1200.80,73.84 L1201.33,73.49 L1201.79,73.15 L1202.19,72.82 L1202.54,72.49 L1202.85,72.18 L1203.14,71.86 L1203.44,71.55 L1203.79,71.21 L1204.19,70.81 L1204.61,70.38 L1205.03,69.92 L1205.45,69.46 L1205.86,68.99 L1206.26,68.53 L1206.63,68.08 L1206.99,67.66 L1207.31,67.26 L1207.60,66.91 L1207.87,66.57 L1208.11,66.25 L1208.34,65.95 L1208.54,65.67 L1208.72,65.40 L1208.88,65.16 L1209.02,64.94 L1209.14,64.74 L1209.25,64.58 L1209.34,64.44 L1209.06,64.16 L1208.92,64.26 L1208.76,64.37 L1208.57,64.51 L1208.36,64.66 L1208.12,64.83 L1207.87,65.01 L1207.59,65.21 L1207.29,65.42 L1206.98,65.65 L1206.64,65.89 L1206.27,66.17 L1205.86,66.48 L1205.42,66.81 L1204.96,67.16 L1204.48,67.52 L1204.00,67.88 L1203.52,68.24 L1203.05,68.58 L1202.59,68.90 L1202.14,69.19 L1201.71,69.48 L1201.32,69.76 L1200.98,70.01 L1200.66,70.22 L1200.36,70.42 L1200.05,70.60 L1199.69,70.79 L1199.27,70.99 L1198.76,71.20 L1198.12,71.44 L1197.34,71.72 L1196.44,72.04 L1195.45,72.37 L1194.39,72.71 L1193.29,73.05 L1192.16,73.38 L1191.05,73.68 L1189.96,73.95 L1188.93,74.18 L1187.99,74.36 L1187.11,74.48 L1186.24,74.56 L1185.38,74.61 L1184.51,74.64 L1183.63,74.64 L1182.74,74.63 L1181.82,74.61 L1180.89,74.60 L1179.93,74.59 L1178.96,74.60 L1177.98,74.62 L1176.94,74.63 L1175.86,74.65 L1174.77,74.66 L1173.70,74.67 L1172.67,74.68 L1171.72,74.68 L1170.87,74.69 L1170.14,74.69 L1169.58,74.70 L1165.60,74.70Z" fill="#2f2f2f"/><path d="M1149.80,85.00 L1150.00,83.60 L1150.59,82.30 L1151.78,80.90 L1153.76,79.20 L1156.14,77.60 L1158.51,76.40 L1161.68,75.40 L1165.64,74.90 L1170.39,74.70 L1170.39,79.30 L1167.62,79.40 L1163.66,79.80 L1159.70,80.50 L1157.13,81.30 L1156.53,82.10 L1156.14,83.10 L1152.97,84.60 L1150.04,85.90Z" fill="#2f2f2f"/><path d="M1259.20,79.30 L1255.18,79.30 L1254.62,79.30 L1253.91,79.29 L1253.06,79.29 L1252.10,79.29 L1251.07,79.28 L1249.99,79.27 L1248.89,79.26 L1247.79,79.25 L1246.73,79.23 L1245.75,79.20 L1244.85,79.18 L1243.95,79.18 L1243.03,79.19 L1242.10,79.19 L1241.14,79.19 L1240.16,79.16 L1239.15,79.10 L1238.11,79.01 L1237.05,78.86 L1235.97,78.64 L1234.86,78.36 L1233.71,78.02 L1232.54,77.63 L1231.37,77.20 L1230.21,76.75 L1229.09,76.29 L1228.02,75.82 L1227.02,75.37 L1226.12,74.95 L1225.31,74.56 L1224.61,74.19 L1224.00,73.84 L1223.47,73.49 L1223.01,73.15 L1222.61,72.82 L1222.26,72.49 L1221.95,72.18 L1221.66,71.86 L1221.36,71.55 L1221.01,71.21 L1220.61,70.81 L1220.19,70.38 L1219.77,69.92 L1219.35,69.46 L1218.94,68.99 L1218.54,68.53 L1218.17,68.08 L1217.81,67.66 L1217.49,67.26 L1217.20,66.91 L1216.93,66.57 L1216.69,66.25 L1216.46,65.95 L1216.26,65.67 L1216.08,65.40 L1215.92,65.16 L1215.78,64.94 L1215.66,64.74 L1215.55,64.58 L1215.46,64.44 L1215.74,64.16 L1215.88,64.26 L1216.04,64.37 L1216.23,64.51 L1216.44,64.66 L1216.68,64.83 L1216.93,65.01 L1217.21,65.21 L1217.51,65.42 L1217.82,65.65 L1218.16,65.89 L1218.53,66.17 L1218.94,66.48 L1219.38,66.81 L1219.84,67.16 L1220.32,67.52 L1220.80,67.88 L1221.28,68.24 L1221.75,68.58 L1222.21,68.90 L1222.66,69.19 L1223.09,69.48 L1223.48,69.76 L1223.82,70.01 L1224.14,70.22 L1224.44,70.42 L1224.75,70.60 L1225.11,70.79 L1225.53,70.99 L1226.04,71.20 L1226.68,71.44 L1227.46,71.72 L1228.36,72.04 L1229.35,72.37 L1230.41,72.71 L1231.51,73.05 L1232.64,73.38 L1233.75,73.68 L1234.84,73.95 L1235.87,74.18 L1236.81,74.36 L1237.69,74.48 L1238.56,74.56 L1239.42,74.61 L1240.29,74.64 L1241.17,74.64 L1242.06,74.63 L1242.98,74.61 L1243.91,74.60 L1244.87,74.59 L1245.84,74.60 L1246.82,74.62 L1247.86,74.63 L1248.94,74.65 L1250.03,74.66 L1251.10,74.67 L1252.13,74.68 L1253.08,74.68 L1253.93,74.69 L1254.66,74.69 L1255.22,74.70 L1259.20,74.70Z" fill="#2f2f2f"/><path d="M1275.00,85.00 L1274.80,83.60 L1274.21,82.30 L1273.02,80.90 L1271.04,79.20 L1268.66,77.60 L1266.29,76.40 L1263.12,75.40 L1259.16,74.90 L1254.41,74.70 L1254.41,79.30 L1257.18,79.40 L1261.14,79.80 L1265.10,80.50 L1267.67,81.30 L1268.27,82.10 L1268.66,83.10 L1271.83,84.60 L1274.76,85.90Z" fill="#2f2f2f"/>
<circle cx="608.1" cy="39.9" r="24.4" fill="#d20000"/><rect x="604.15" y="59.9" width="7.9" height="20.9" fill="#d20000"/><path d="M601.4,80.3 L614.8000000000001,80.3 L608.1,92.6 Z" fill="#d20000"/><text x="608.6" y="45.6" text-anchor="middle" font-size="17" font-weight="bold" fill="#fff">CPE</text>
<circle cx="1142.8" cy="39.7" r="24.4" fill="#d20000"/><rect x="1138.85" y="59.7" width="7.9" height="20.9" fill="#d20000"/><path d="M1136.1,80.1 L1149.5,80.1 L1142.8,92.4 Z" fill="#d20000"/><text x="1143.3" y="45.400000000000006" text-anchor="middle" font-size="17" font-weight="bold" fill="#fff">TJE</text>
<circle cx="59.6" cy="835.0" r="24.4" fill="#d20000"/><rect x="55.65" y="855.0" width="7.9" height="20.899999999999977" fill="#d20000"/><path d="M52.9,875.4 L66.3,875.4 L59.6,887.7 Z" fill="#d20000"/>
<text x="112" y="837.9" font-size="19.5" font-weight="bold">Geological</text>
<text x="112" y="862" font-size="19.5" font-weight="bold">Event</text>
<rect x="281.5" y="797" width="320" height="93.2" rx="17" ry="17" fill="#d4d4d4"/>
<text x="295.5" y="825" font-size="19.5" font-weight="bold">a)</text>
<text x="429.7" y="825" text-anchor="middle" font-size="19.5" font-weight="bold">Diet</text>
<ellipse cx="330.5" cy="857.5" rx="13" ry="12.2" fill="#800000"/>
<text x="356" y="866.5" font-size="19.5">FnV</text>
<ellipse cx="488" cy="857.5" rx="13" ry="12.2" fill="#8fa97e"/>
<text x="514.5" y="866.5" font-size="19.5">HbV</text>
<rect x="628.5" y="797" width="664.5" height="93.2" rx="17" ry="17" fill="#d4d4d4"/>
<text x="659" y="825.2" font-size="19.5" font-weight="bold">b)</text>
<text x="932.7" y="825.2" text-anchor="middle" font-size="19.5" font-weight="bold">Taxonomic Groups</text>
<ellipse cx="664.4" cy="857.7" rx="13" ry="12.2" fill="#3b5724"/>
<text x="686.5" y="866.8" font-size="19.5">Th</text>
<ellipse cx="771.8" cy="857.7" rx="13" ry="12.2" fill="#bf8c00"/>
<text x="794" y="866.8" font-size="19.5">Pr</text>
<ellipse cx="872" cy="857.7" rx="13" ry="12.2" fill="#2e59a0"/>
<text x="892.6" y="866.8" font-size="19.5">BAm</text>
<ellipse cx="995.2" cy="857.7" rx="13" ry="12.2" fill="#9c28c6"/>
<text x="1020.6" y="866.8" font-size="19.5">Psd</text>
<ellipse cx="1113.7" cy="857.7" rx="13" ry="12.2" fill="#c94142"/>
<text x="1134.6" y="866.8" font-size="19.5">Sile</text>
<ellipse cx="1220.2" cy="857.7" rx="13" ry="12.2" fill="#c80000"/>
<text x="1242" y="866.8" font-size="19.5">Ds</text></svg>
</body></html>
